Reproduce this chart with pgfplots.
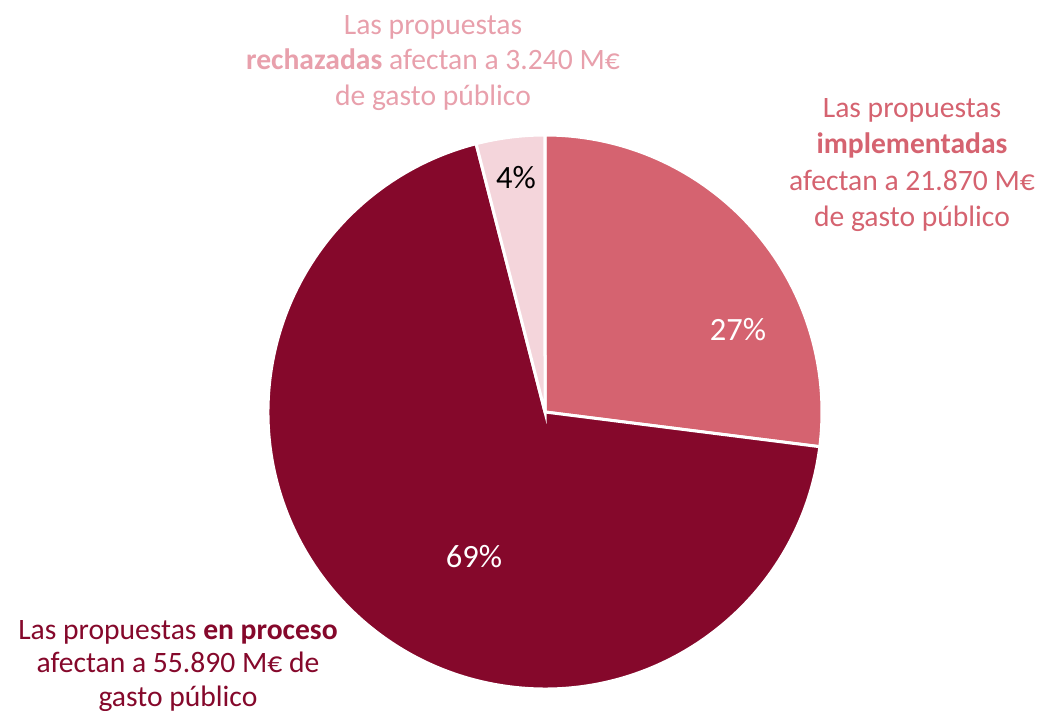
\documentclass[border=0pt]{standalone}
\usepackage{fontspec}
\setmainfont{Carlito}
\usepackage{pgfplots}
\usepackage{pgfplotstable}
\pgfplotsset{compat=1.18}

\definecolor{implcol}{RGB}{213,99,112}
\definecolor{proccol}{RGB}{133,8,43}
\definecolor{rechcol}{RGB}{244,213,219}
\definecolor{rechtxt}{RGB}{232,160,172}

% gasto publico (M EUR) por estado de las propuestas
\pgfplotstableread{
estado value
implementadas 21870
proceso 55890
rechazadas 3240
}\pietable

\pgfplotstablegetelem{0}{value}\of\pietable \let\vImpl\pgfplotsretval
\pgfplotstablegetelem{1}{value}\of\pietable \let\vProc\pgfplotsretval
\pgfplotstablegetelem{2}{value}\of\pietable \let\vRech\pgfplotsretval
\pgfkeys{/pgf/fpu=true, /pgf/fpu/output format=fixed}
\pgfmathsetmacro\vTot{\vImpl+\vProc+\vRech}
\pgfmathsetmacro\aO{90}
\pgfmathsetmacro\aI{\aO-360*\vImpl/\vTot}
\pgfmathsetmacro\aII{\aI-360*\vProc/\vTot}
\pgfmathsetmacro\aIII{\aII-360*\vRech/\vTot}
\pgfkeys{/pgf/fpu=false}

\begin{document}
\begin{tikzpicture}
\begin{axis}[
    width=1040bp, height=711bp, scale only axis,
    xmin=0, xmax=1040, ymin=0, ymax=711,
    hide axis, clip=false,
]
\fill[implcol, draw=white, line width=3bp] (axis cs:545,299) -- ++(\aO:277bp)
    arc[start angle=\aO, end angle=\aI, radius=277bp] -- cycle;
\fill[proccol, draw=white, line width=3bp] (axis cs:545,299) -- ++(\aI:277bp)
    arc[start angle=\aI, end angle=\aII, radius=277bp] -- cycle;
\fill[rechcol, draw=white, line width=3bp] (axis cs:545,299) -- ++(\aII:277bp)
    arc[start angle=\aII, end angle=\aIII, radius=277bp] -- cycle;

\node[white, font=\fontsize{32.5bp}{38bp}\selectfont] at (axis cs:738,381) {27\%};
\node[white, font=\fontsize{32.5bp}{38bp}\selectfont] at (axis cs:474,154) {69\%};
\node[black, font=\fontsize{32.5bp}{38bp}\selectfont] at (axis cs:516,533) {4\%};

\node[rechtxt, align=center, font=\fontsize{29.6bp}{35.5bp}\selectfont] at (axis cs:433,648)
    {Las propuestas\\\textbf{rechazadas} afectan a 3.240 M€\\de gasto público};
\node[implcol, align=center, font=\fontsize{29.6bp}{36.3bp}\selectfont] at (axis cs:912,546)
    {Las propuestas\\\textbf{implementadas}\\afectan a 21.870 M€\\de gasto público};
\node[proccol, align=center, font=\fontsize{29.6bp}{33.8bp}\selectfont] at (axis cs:178,45)
    {Las propuestas \textbf{en proceso}\\afectan a 55.890 M€ de\\gasto público};
\end{axis}
\pgfresetboundingbox
\path (0,0) rectangle (1040bp,711bp);
\end{tikzpicture}
\end{document}
